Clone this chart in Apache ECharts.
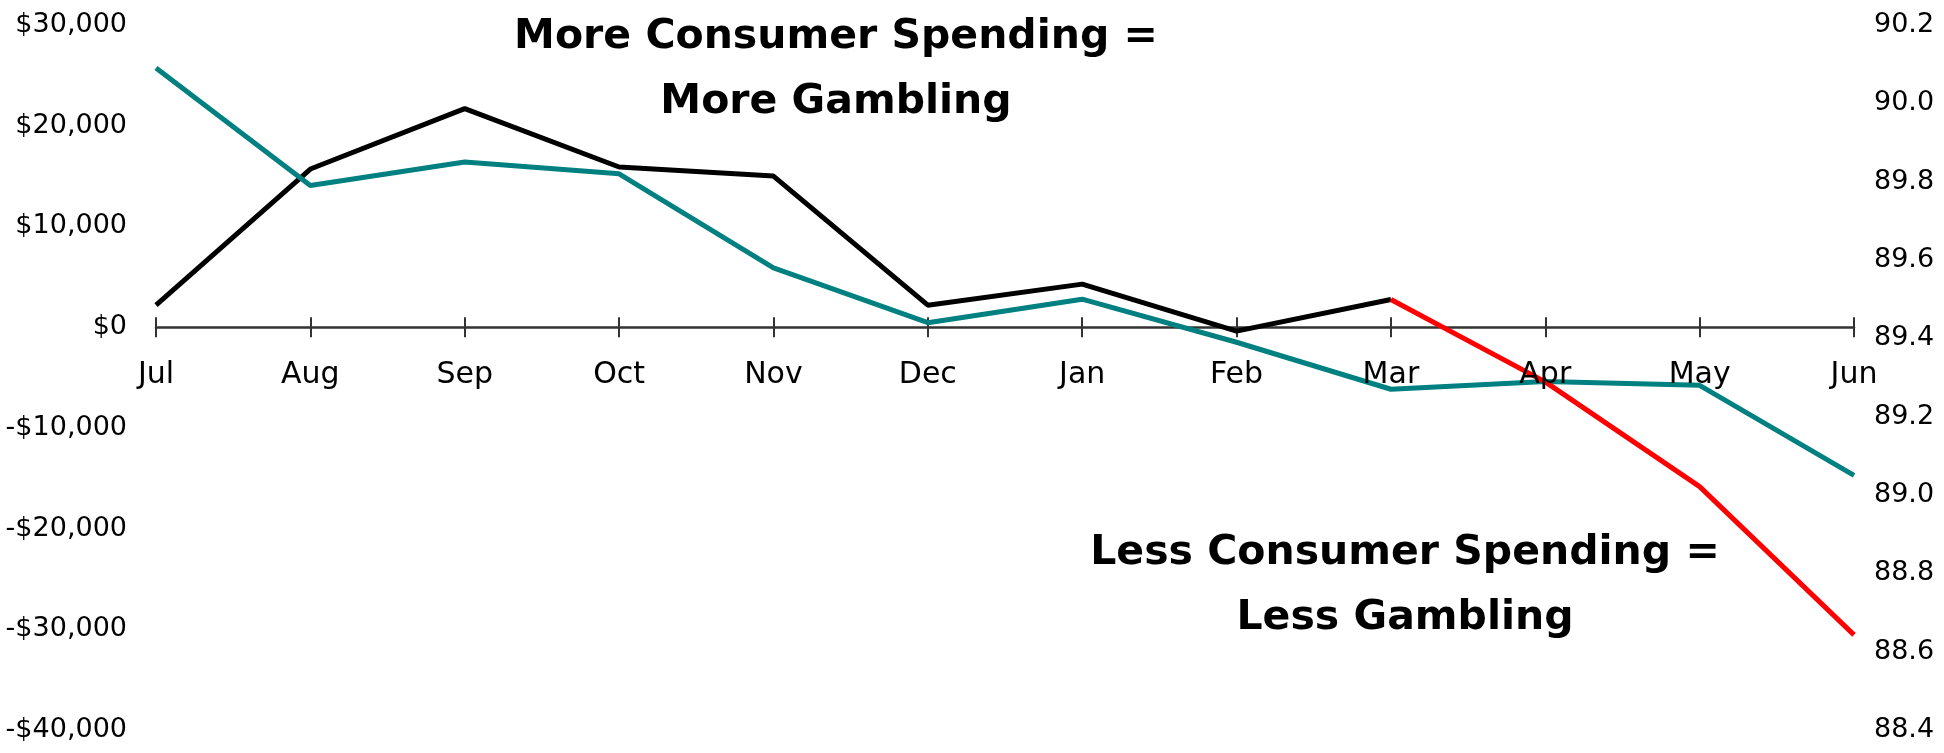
<!DOCTYPE html>
<html><head><meta charset="utf-8">
<script src="https://cdn.jsdelivr.net/npm/echarts@6/dist/echarts.min.js"></script>
<style>html,body{margin:0;padding:0;background:#fff}#c{width:1944px;height:753px}</style>
</head><body><div id="c"></div>
<script>
// ---- data ----
const months = ['Jul','Aug','Sep','Oct','Nov','Dec','Jan','Feb','Mar','Apr','May','Jun'];
const spendingChange = [2180, 15700, 21700, 15900, 15000, 2180, 4270, -400, 2750, null, null, null];
const spendingDecline = [null, null, null, null, null, null, null, null, 2750, -5430, -15840, -30560];
const gamblingIndex = [90.09, 89.79, 89.85, 89.82, 89.58, 89.44, 89.50, 89.39, 89.27, 89.29, 89.28, 89.05];
const leftMin = -40000, leftMax = 30000, leftStep = 10000;
const rightMin = 88.4, rightMax = 90.2, rightStep = 0.2;
const noteTop = ['More Consumer Spending =', 'More Gambling'];
const noteBottom = ['Less Consumer Spending =', 'Less Gambling'];

// ---- chart ----
const FONT = '"DejaVu Sans", sans-serif';
const chart = echarts.init(document.getElementById('c'), null, {renderer: 'canvas'});
function money(v) {
  const s = '$' + Math.abs(v).toLocaleString('en-US');
  return v < 0 ? '-' + s : s;
}
const axisCol = '#333333';
// zero line of the main grid
const gridTop = 25, gridBottom = 23, H = 753;
const zeroY = gridTop + (H - gridTop - gridBottom) * (leftMax - 0) / (leftMax - leftMin);
chart.setOption({
  backgroundColor: '#ffffff',
  animation: false,
  grid: [
    {left: 156, right: 90, top: gridTop, bottom: gridBottom, containLabel: false, outerBoundsMode: 'none'},
    {left: 156, right: 90, top: gridTop, bottom: H - zeroY, containLabel: false, outerBoundsMode: 'none'}
  ],
  xAxis: [
    {
      type: 'category', data: months, boundaryGap: false, position: 'bottom', gridIndex: 0,
      axisLine: {show: true, onZero: true, onZeroAxisIndex: 0, lineStyle: {color: axisCol, width: 2.5}},
      axisTick: {show: true, length: 10, lineStyle: {color: axisCol, width: 2}},
      axisLabel: {show: false},
      splitLine: {show: false}
    },
    {
      type: 'category', data: months, boundaryGap: false, position: 'top', gridIndex: 0,
      axisLine: {show: false, onZero: true, onZeroAxisIndex: 0},
      axisTick: {show: true, length: 10, lineStyle: {color: axisCol, width: 2}},
      axisLabel: {show: false},
      splitLine: {show: false}
    },
    {
      type: 'category', data: months, boundaryGap: false, position: 'bottom', gridIndex: 1, z: 10,
      axisLine: {show: false, onZero: false},
      axisTick: {show: false},
      axisLabel: {show: true, fontSize: 30, fontFamily: FONT, color: '#000', margin: 33, interval: 0},
      splitLine: {show: false}
    }
  ],
  yAxis: [
    {
      type: 'value', position: 'left', min: leftMin, max: leftMax, interval: leftStep, gridIndex: 0,
      axisLine: {show: false}, axisTick: {show: false}, splitLine: {show: false},
      axisLabel: {fontSize: 27, fontFamily: FONT, color: '#000', margin: 29, formatter: money}
    },
    {
      type: 'value', position: 'right', min: rightMin, max: rightMax, interval: rightStep, gridIndex: 0,
      axisLine: {show: false}, axisTick: {show: false}, splitLine: {show: false},
      axisLabel: {fontSize: 27, fontFamily: FONT, color: '#000', margin: 20, formatter: v => v.toFixed(1)}
    },
    {
      type: 'value', gridIndex: 1, min: 0, max: 1, show: false
    }
  ],
  series: [
    {name: 'Consumer spending', type: 'line', xAxisIndex: 0, yAxisIndex: 0, data: spendingChange,
     symbol: 'none', connectNulls: false, lineStyle: {color: '#000000', width: 5}, itemStyle: {color: '#000000'}, z: 2},
    {name: 'Gambling', type: 'line', xAxisIndex: 0, yAxisIndex: 1, data: gamblingIndex,
     symbol: 'none', lineStyle: {color: '#008080', width: 5}, itemStyle: {color: '#008080'}, z: 3},
    {name: 'Consumer spending decline', type: 'line', xAxisIndex: 0, yAxisIndex: 0, data: spendingDecline,
     symbol: 'none', connectNulls: false, lineStyle: {color: '#ff0000', width: 5}, itemStyle: {color: '#ff0000'}, z: 4}
  ],
  graphic: [
    {type: 'text', x: 836, y: 70, z: 10,
     style: {text: noteTop.join('\n'), align: 'center', verticalAlign: 'middle', textAlign: 'center', textVerticalAlign: 'middle',
             font: 'bold 41px ' + FONT, fill: '#000', lineHeight: 65}},
    {type: 'text', x: 1405, y: 586, z: 10,
     style: {text: noteBottom.join('\n'), align: 'center', verticalAlign: 'middle', textAlign: 'center', textVerticalAlign: 'middle',
             font: 'bold 41px ' + FONT, fill: '#000', lineHeight: 65}}
  ]
});
</script>
</body></html>
